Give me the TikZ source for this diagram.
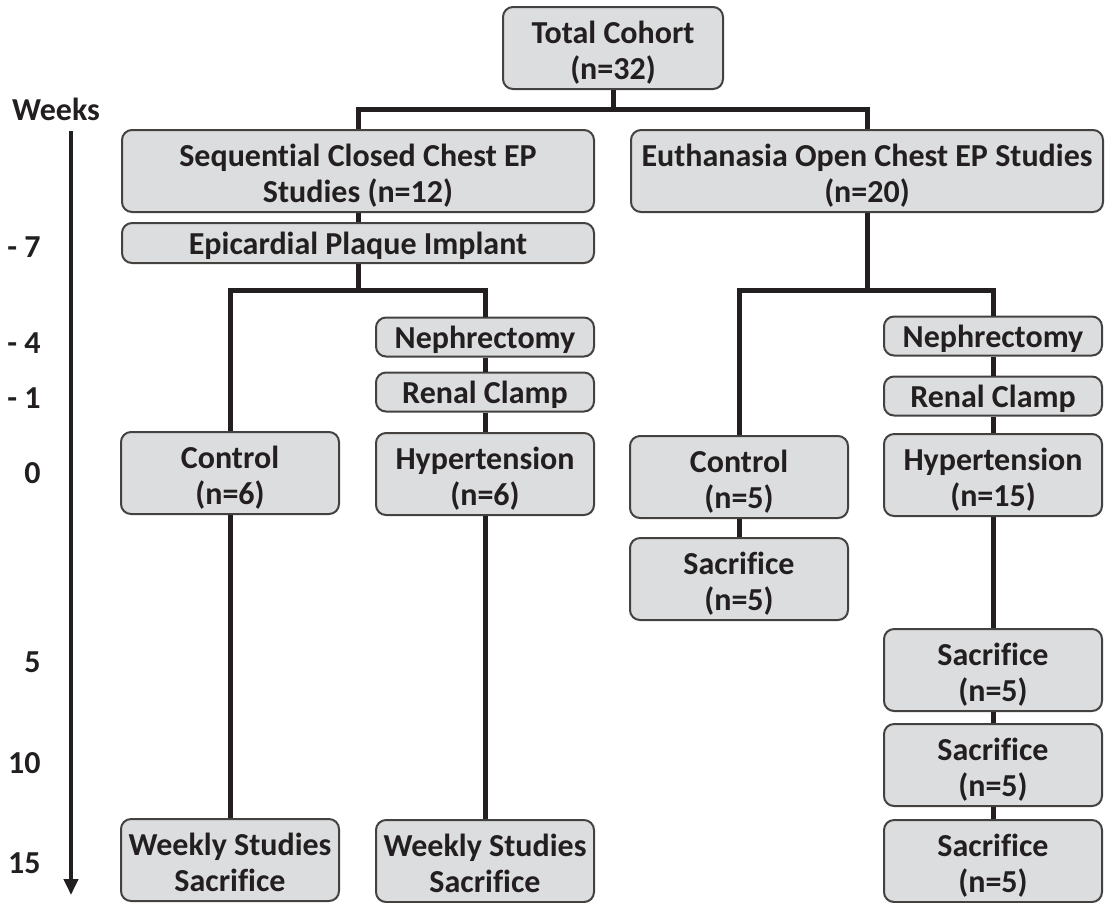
\documentclass[tikz,border=0pt]{standalone}
\usepackage{fontspec}
\setmainfont{Carlito}[Ligatures=NoCommon]
\usepackage{tikz}
\usetikzlibrary{arrows.meta,positioning,calc}
\definecolor{boxgray}{RGB}{220,221,222}
\definecolor{ink}{RGB}{35,31,32}
\tikzset{
    %Define standard arrow tip
    >={Triangle[length=8pt,width=7pt]},
    %Define style for boxes
    stage/.style={
           draw=ink!85,
           line width=1pt,
           fill=boxgray,
           rounded corners=5pt,
           align=center,
           inner sep=0pt,
           text=ink,
           font=\fontsize{16}{17.75}\selectfont\bfseries},
    % Two-line boxes sit a little low
    twoline/.style={
           stage,
           text height=31pt,
           text depth=0pt},
    % Define connector style
    link/.style={
           line width=2.5pt,
           draw=ink},
    % Week labels
    tick/.style={
           anchor=east,
           inner sep=0pt,
           text=ink,
           font=\fontsize{16}{19}\selectfont\bfseries}
}

\begin{document}
\begin{tikzpicture}[x=0.5pt,y=-0.5pt]
	% Styles
	\tikzstyle{tall} = [twoline, minimum width=109pt, minimum height=41pt]
	\tikzstyle{flat} = [stage, minimum width=109pt, minimum height=19.5pt, text depth=0pt]
	\tikzstyle{wide} = [twoline, minimum width=236pt, minimum height=41pt]

	\useasboundingbox (0,0) rectangle (1108,902);

	% Time axis
	\node[tick, anchor=center] (weeks) at (56,109) {Weeks};
	\coordinate (t0) at (71,131);
	\coordinate (t1) at (71,895);
	\draw[->, line width=2pt, draw=ink] (t0) -- (t1);
	\node[tick] (wm7) at (41,247) {- 7};
	\node[tick] (wm4) at (41,343) {- 4};
	\node[tick] (wm1) at (41,398) {- 1};
	\node[tick] (w0)  at (41,473) {0};
	\node[tick] (w5)  at (41,662) {5};
	\node[tick] (w10) at (41,763) {10};
	\node[tick] (w15) at (41,863) {15};

	% Cohort split
	\node[twoline, minimum width=110pt, minimum height=41pt] (total) at (613,48) {Total Cohort\\(n=32)};
	\node[wide] (closed) at (358,171) {Sequential Closed Chest EP\\Studies (n=12)};
	\node[wide] (open) at (867,171) {Euthanasia Open Chest EP Studies\\(n=20)};

	% Closed chest arm
	\node[stage, minimum width=236pt, minimum height=20pt, text depth=0pt] (implant) at (358,243) {Epicardial Plaque Implant};
	\node[tall] (controlA) at (230,473) {Control\\(n=6)};
	\node[flat] (nephA) at (485,337) {Nephrectomy};
	\node[flat] (clampA) at (485,392) {Renal Clamp};
	\node[tall] (hyperA) at (485,474) {Hypertension\\(n=6)};
	\node[tall] (weeklyA) at (230,860) {Weekly Studies\\Sacrifice};
	\node[tall] (weeklyB) at (485,861) {Weekly Studies\\Sacrifice};

	% Open chest arm
	\node[tall] (controlB) at (739,477) {Control\\(n=5)};
	\node[tall] (sacB) at (739,579) {Sacrifice\\(n=5)};
	\node[flat] (nephB) at (993,336) {Nephrectomy};
	\node[flat] (clampB) at (993,396) {Renal Clamp};
	\node[tall] (hyperB) at (993,475) {Hypertension\\(n=15)};
	\node[tall] (sac5) at (993,670) {Sacrifice\\(n=5)};
	\node[tall] (sac10) at (993,765) {Sacrifice\\(n=5)};
	\node[tall] (sac15) at (993,861) {Sacrifice\\(n=5)};

	% Connectors
	\coordinate (bar1) at ($(closed.north)+(0,-20)$);
	\draw[link] (closed.north) -- (bar1) -| (open.north);
	\draw[link] (total.south) -- (total.south |- bar1);
	\draw[link] (closed) -- (implant);
	\coordinate (bar2) at ($(implant.south)+(0,26)$);
	\draw[link] (implant.south) -- (bar2);
	\draw[link] (controlA.north) |- (bar2) -| (nephA.north);
	\draw[link] (nephA) -- (clampA);
	\draw[link] (clampA) -- (hyperA);
	\draw[link] (controlA) -- (weeklyA);
	\draw[link] (hyperA) -- (weeklyB);
	\coordinate (bar3) at (open.south |- bar2);
	\draw[link] (open.south) -- (bar3);
	\draw[link] (controlB.north) |- (bar3) -| (nephB.north);
	\draw[link] (controlB) -- (sacB);
	\draw[link] (nephB) -- (clampB);
	\draw[link] (clampB) -- (hyperB);
	\draw[link] (hyperB) -- (sac5);
	\draw[link] (sac5) -- (sac10);
	\draw[link] (sac10) -- (sac15);
\end{tikzpicture}
\end{document}
